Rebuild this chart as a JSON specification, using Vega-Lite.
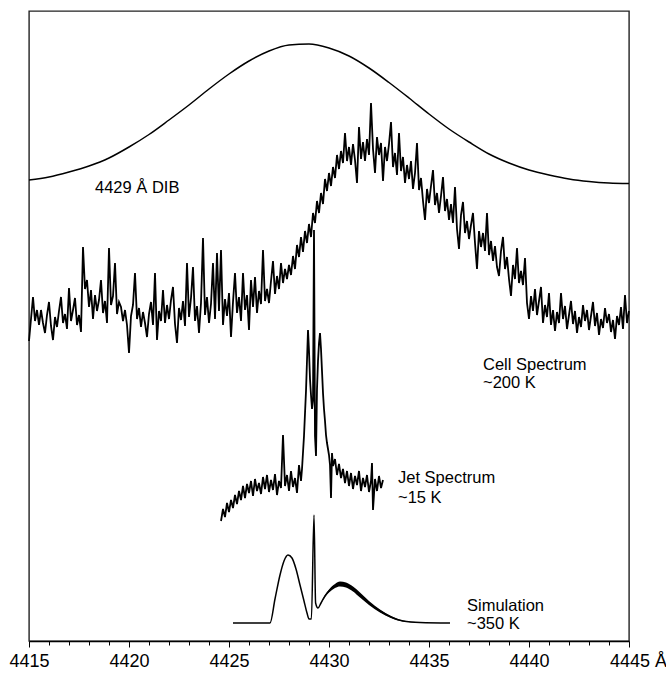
{
"$schema":"https://vega.github.io/schema/vega-lite/v6.json",
"width":600,"height":630,"autosize":"none",
"padding":{"left":29,"top":11,"right":37,"bottom":33},
"background":"white",
"config":{"view":{"stroke":"#222","strokeWidth":1.4},"font":"Liberation Sans"},
"datasets":{
"dib":[{"w":4415,"v":461},{"w":4416,"v":464},{"w":4417,"v":469},{"w":4418,"v":475},{"w":4419,"v":483},{"w":4420,"v":494},{"w":4421,"v":506.5},{"w":4422,"v":521},{"w":4423,"v":536},{"w":4424,"v":552},{"w":4425,"v":567},{"w":4426,"v":580},{"w":4427,"v":590},{"w":4428,"v":596},{"w":4429,"v":597},{"w":4430,"v":593},{"w":4431,"v":585},{"w":4432,"v":573},{"w":4433,"v":558.5},{"w":4434,"v":543},{"w":4435,"v":527},{"w":4436,"v":512},{"w":4437,"v":499},{"w":4438,"v":487},{"w":4439,"v":478},{"w":4440,"v":471},{"w":4441,"v":466},{"w":4442,"v":462},{"w":4443,"v":459.5},{"w":4444,"v":458},{"w":4445,"v":457.5}],
"cell":[{"w":4415.0,"v":300},{"w":4415.1,"v":322},{"w":4415.2,"v":344},{"w":4415.3,"v":320},{"w":4415.4,"v":331},{"w":4415.5,"v":316},{"w":4415.6,"v":331},{"w":4415.7,"v":318},{"w":4415.8,"v":308},{"w":4415.9,"v":326},
{"w":4416.0,"v":339},{"w":4416.1,"v":315},{"w":4416.2,"v":301},{"w":4416.3,"v":324},{"w":4416.4,"v":314},{"w":4416.5,"v":330},{"w":4416.6,"v":344},{"w":4416.7,"v":318},{"w":4416.8,"v":327},{"w":4416.9,"v":312},
{"w":4417.0,"v":353},{"w":4417.1,"v":320},{"w":4417.2,"v":331},{"w":4417.3,"v":343},{"w":4417.4,"v":316},{"w":4417.5,"v":326},{"w":4417.6,"v":309},{"w":4417.7,"v":394},{"w":4417.8,"v":352},{"w":4417.9,"v":361},
{"w":4418.0,"v":334},{"w":4418.1,"v":351},{"w":4418.2,"v":322},{"w":4418.3,"v":346},{"w":4418.4,"v":330},{"w":4418.5,"v":341},{"w":4418.6,"v":361},{"w":4418.7,"v":328},{"w":4418.8,"v":340},{"w":4418.9,"v":318},
{"w":4419.0,"v":393},{"w":4419.1,"v":336},{"w":4419.2,"v":345},{"w":4419.3,"v":378},{"w":4419.4,"v":327},{"w":4419.5,"v":339},{"w":4419.6,"v":334},{"w":4419.7,"v":320},{"w":4419.8,"v":331},{"w":4419.9,"v":316},
{"w":4420.0,"v":288},{"w":4420.1,"v":325},{"w":4420.2,"v":336},{"w":4420.3,"v":368},{"w":4420.4,"v":322},{"w":4420.5,"v":333},{"w":4420.6,"v":314},{"w":4420.7,"v":329},{"w":4420.8,"v":318},{"w":4420.9,"v":304},
{"w":4421.0,"v":327},{"w":4421.1,"v":339},{"w":4421.2,"v":316},{"w":4421.3,"v":368},{"w":4421.4,"v":301},{"w":4421.5,"v":330},{"w":4421.6,"v":320},{"w":4421.7,"v":351},{"w":4421.8,"v":318},{"w":4421.9,"v":336},
{"w":4422.0,"v":322},{"w":4422.1,"v":341},{"w":4422.2,"v":354},{"w":4422.3,"v":317},{"w":4422.4,"v":298},{"w":4422.5,"v":333},{"w":4422.6,"v":321},{"w":4422.7,"v":340},{"w":4422.8,"v":315},{"w":4422.9,"v":378},
{"w":4423.0,"v":324},{"w":4423.1,"v":343},{"w":4423.2,"v":374},{"w":4423.3,"v":320},{"w":4423.4,"v":335},{"w":4423.5,"v":308},{"w":4423.6,"v":338},{"w":4423.7,"v":403},{"w":4423.8,"v":326},{"w":4423.9,"v":344},
{"w":4424.0,"v":318},{"w":4424.1,"v":337},{"w":4424.2,"v":378},{"w":4424.3,"v":322},{"w":4424.4,"v":388},{"w":4424.5,"v":330},{"w":4424.6,"v":391},{"w":4424.7,"v":316},{"w":4424.8,"v":342},{"w":4424.9,"v":325},
{"w":4425.0,"v":348},{"w":4425.1,"v":304},{"w":4425.2,"v":339},{"w":4425.3,"v":368},{"w":4425.4,"v":328},{"w":4425.5,"v":344},{"w":4425.6,"v":320},{"w":4425.7,"v":368},{"w":4425.8,"v":331},{"w":4425.9,"v":346},
{"w":4426.0,"v":311},{"w":4426.1,"v":361},{"w":4426.2,"v":334},{"w":4426.3,"v":364},{"w":4426.4,"v":328},{"w":4426.5,"v":350},{"w":4426.6,"v":337},{"w":4426.7,"v":391},{"w":4426.8,"v":340},{"w":4426.9,"v":352},
{"w":4427.0,"v":338},{"w":4427.1,"v":360},{"w":4427.2,"v":380},{"w":4427.3,"v":347},{"w":4427.4,"v":365},{"w":4427.5,"v":352},{"w":4427.6,"v":378},{"w":4427.7,"v":358},{"w":4427.8,"v":372},{"w":4427.9,"v":362},
{"w":4428.0,"v":376},{"w":4428.1,"v":366},{"w":4428.2,"v":385},{"w":4428.3,"v":372},{"w":4428.4,"v":396},{"w":4428.5,"v":384},{"w":4428.6,"v":404},{"w":4428.7,"v":389},{"w":4428.8,"v":410},{"w":4428.9,"v":398},
{"w":4429.0,"v":417},{"w":4429.1,"v":404},{"w":4429.2,"v":428},{"w":4429.3,"v":418},{"w":4429.4,"v":440},{"w":4429.5,"v":428},{"w":4429.6,"v":448},{"w":4429.7,"v":437},{"w":4429.8,"v":462},{"w":4429.9,"v":450},
{"w":4430.0,"v":468},{"w":4430.1,"v":455},{"w":4430.2,"v":474},{"w":4430.3,"v":463},{"w":4430.4,"v":486},{"w":4430.5,"v":472},{"w":4430.6,"v":490},{"w":4430.7,"v":478},{"w":4430.8,"v":508},{"w":4430.9,"v":480},
{"w":4431.0,"v":494},{"w":4431.1,"v":476},{"w":4431.2,"v":497},{"w":4431.3,"v":481},{"w":4431.4,"v":458},{"w":4431.5,"v":514},{"w":4431.6,"v":482},{"w":4431.7,"v":499},{"w":4431.8,"v":480},{"w":4431.9,"v":502},
{"w":4432.0,"v":486},{"w":4432.1,"v":538},{"w":4432.2,"v":492},{"w":4432.3,"v":468},{"w":4432.4,"v":504},{"w":4432.5,"v":486},{"w":4432.6,"v":498},{"w":4432.7,"v":460},{"w":4432.8,"v":494},{"w":4432.9,"v":480},
{"w":4433.0,"v":497},{"w":4433.1,"v":519},{"w":4433.2,"v":474},{"w":4433.3,"v":488},{"w":4433.4,"v":466},{"w":4433.5,"v":508},{"w":4433.6,"v":470},{"w":4433.7,"v":484},{"w":4433.8,"v":458},{"w":4433.9,"v":476},
{"w":4434.0,"v":462},{"w":4434.1,"v":480},{"w":4434.2,"v":452},{"w":4434.3,"v":468},{"w":4434.4,"v":498},{"w":4434.5,"v":451},{"w":4434.6,"v":463},{"w":4434.7,"v":440},{"w":4434.8,"v":421},{"w":4434.9,"v":452},
{"w":4435.0,"v":438},{"w":4435.1,"v":455},{"w":4435.2,"v":471},{"w":4435.3,"v":436},{"w":4435.4,"v":448},{"w":4435.5,"v":428},{"w":4435.6,"v":445},{"w":4435.7,"v":464},{"w":4435.8,"v":430},{"w":4435.9,"v":442},
{"w":4436.0,"v":421},{"w":4436.1,"v":437},{"w":4436.2,"v":418},{"w":4436.3,"v":454},{"w":4436.4,"v":412},{"w":4436.5,"v":392},{"w":4436.6,"v":426},{"w":4436.7,"v":439},{"w":4436.8,"v":408},{"w":4436.9,"v":420},
{"w":4437.0,"v":402},{"w":4437.1,"v":416},{"w":4437.2,"v":428},{"w":4437.3,"v":398},{"w":4437.4,"v":372},{"w":4437.5,"v":410},{"w":4437.6,"v":394},{"w":4437.7,"v":408},{"w":4437.8,"v":390},{"w":4437.9,"v":428},
{"w":4438.0,"v":386},{"w":4438.1,"v":400},{"w":4438.2,"v":380},{"w":4438.3,"v":395},{"w":4438.4,"v":374},{"w":4438.5,"v":365},{"w":4438.6,"v":390},{"w":4438.7,"v":404},{"w":4438.8,"v":372},{"w":4438.9,"v":384},
{"w":4439.0,"v":362},{"w":4439.1,"v":345},{"w":4439.2,"v":376},{"w":4439.3,"v":362},{"w":4439.4,"v":393},{"w":4439.5,"v":358},{"w":4439.6,"v":370},{"w":4439.7,"v":356},{"w":4439.8,"v":383},{"w":4439.9,"v":338},
{"w":4440.0,"v":322},{"w":4440.1,"v":345},{"w":4440.2,"v":330},{"w":4440.3,"v":352},{"w":4440.4,"v":326},{"w":4440.5,"v":340},{"w":4440.6,"v":354},{"w":4440.7,"v":318},{"w":4440.8,"v":336},{"w":4440.9,"v":324},
{"w":4441.0,"v":348},{"w":4441.1,"v":316},{"w":4441.2,"v":331},{"w":4441.3,"v":310},{"w":4441.4,"v":329},{"w":4441.5,"v":318},{"w":4441.6,"v":348},{"w":4441.7,"v":322},{"w":4441.8,"v":335},{"w":4441.9,"v":312},
{"w":4442.0,"v":326},{"w":4442.1,"v":340},{"w":4442.2,"v":317},{"w":4442.3,"v":330},{"w":4442.4,"v":308},{"w":4442.5,"v":324},{"w":4442.6,"v":314},{"w":4442.7,"v":336},{"w":4442.8,"v":320},{"w":4442.9,"v":331},
{"w":4443.0,"v":311},{"w":4443.1,"v":325},{"w":4443.2,"v":339},{"w":4443.3,"v":315},{"w":4443.4,"v":328},{"w":4443.5,"v":306},{"w":4443.6,"v":322},{"w":4443.7,"v":313},{"w":4443.8,"v":333},{"w":4443.9,"v":318},
{"w":4444.0,"v":327},{"w":4444.1,"v":309},{"w":4444.2,"v":321},{"w":4444.3,"v":302},{"w":4444.4,"v":325},{"w":4444.5,"v":316},{"w":4444.6,"v":334},{"w":4444.7,"v":312},{"w":4444.8,"v":346},{"w":4444.9,"v":318},{"w":4445.0,"v":330}],
"jet":[{"w":4424.6,"v":120},{"w":4424.7,"v":132},{"w":4424.8,"v":124},{"w":4424.9,"v":138},{"w":4425.0,"v":129},{"w":4425.1,"v":141},{"w":4425.2,"v":133},{"w":4425.3,"v":146},{"w":4425.4,"v":137},{"w":4425.5,"v":150},{"w":4425.6,"v":141},{"w":4425.7,"v":155},{"w":4425.8,"v":143},{"w":4425.9,"v":157},{"w":4426.0,"v":148},{"w":4426.1,"v":160},{"w":4426.2,"v":145},{"w":4426.3,"v":162},{"w":4426.4,"v":150},{"w":4426.5,"v":158},{"w":4426.6,"v":147},{"w":4426.7,"v":164},{"w":4426.8,"v":152},{"w":4426.9,"v":166},{"w":4427.0,"v":149},{"w":4427.1,"v":161},{"w":4427.2,"v":151},{"w":4427.3,"v":167},{"w":4427.4,"v":146},{"w":4427.5,"v":160},{"w":4427.6,"v":153},{"w":4427.7,"v":206},{"w":4427.8,"v":155},{"w":4427.9,"v":166},{"w":4428.0,"v":150},{"w":4428.1,"v":170},{"w":4428.2,"v":154},{"w":4428.3,"v":163},{"w":4428.4,"v":148},{"w":4428.5,"v":176},{"w":4428.6,"v":160},{"w":4428.65,"v":172},{"w":4428.75,"v":205},{"w":4428.85,"v":250},{"w":4428.95,"v":311},{"w":4429.0,"v":290},{"w":4429.05,"v":262},{"w":4429.1,"v":246},{"w":4429.15,"v":232},{"w":4429.2,"v":240},{"w":4429.25,"v":411},{"w":4429.3,"v":205},{"w":4429.35,"v":185},{"w":4429.4,"v":252},{"w":4429.45,"v":280},{"w":4429.5,"v":298},{"w":4429.55,"v":308},{"w":4429.6,"v":292},{"w":4429.65,"v":270},{"w":4429.7,"v":248},{"w":4429.75,"v":232},{"w":4429.8,"v":220},{"w":4429.85,"v":206},{"w":4429.9,"v":198},{"w":4429.95,"v":192},{"w":4430.0,"v":186},{"w":4430.05,"v":176},{"w":4430.1,"v":143},{"w":4430.15,"v":188},{"w":4430.2,"v":175},{"w":4430.3,"v":182},{"w":4430.4,"v":166},{"w":4430.5,"v":177},{"w":4430.6,"v":163},{"w":4430.7,"v":172},{"w":4430.8,"v":158},{"w":4430.9,"v":170},{"w":4431.0,"v":155},{"w":4431.1,"v":168},{"w":4431.2,"v":152},{"w":4431.3,"v":165},{"w":4431.4,"v":156},{"w":4431.5,"v":170},{"w":4431.6,"v":150},{"w":4431.7,"v":163},{"w":4431.8,"v":154},{"w":4431.9,"v":166},{"w":4432.0,"v":149},{"w":4432.1,"v":160},{"w":4432.15,"v":178},{"w":4432.2,"v":131},{"w":4432.3,"v":162},{"w":4432.4,"v":150},{"w":4432.5,"v":165},{"w":4432.6,"v":153},{"w":4432.7,"v":161}],
"sim":[{"w":4425.2,"v":18},{"w":4427.05,"v":18},{"w":4427.3,"v":42},{"w":4427.55,"v":66},{"w":4427.75,"v":80},{"w":4427.95,"v":86},{"w":4428.15,"v":83},{"w":4428.35,"v":72},{"w":4428.55,"v":56},{"w":4428.75,"v":40},{"w":4428.9,"v":28},{"w":4429.0,"v":22},{"w":4429.12,"v":22},{"w":4429.25,"v":126},{"w":4429.33,"v":38},{"w":4429.45,"v":33},{"w":4429.6,"v":38},{"w":4429.8,"v":45},{"w":4430.0,"v":50},{"w":4430.3,"v":55},{"w":4430.55,"v":57},{"w":4430.85,"v":56},{"w":4431.2,"v":52},{"w":4431.55,"v":46},{"w":4432.0,"v":38},{"w":4432.55,"v":30},{"w":4433.1,"v":24},{"w":4433.7,"v":20},{"w":4434.55,"v":18.5},{"w":4436.05,"v":18}],
"band":[{"w":4429.6,"lo":37.5,"hi":38.5},{"w":4429.8,"lo":44,"hi":46},{"w":4430.0,"lo":48.5,"hi":51.5},{"w":4430.3,"lo":53,"hi":57},{"w":4430.55,"lo":54.5,"hi":59.5},{"w":4430.85,"lo":53.5,"hi":58.5},{"w":4431.2,"lo":49.5,"hi":54.5},{"w":4431.55,"lo":43.5,"hi":48.5},{"w":4432.0,"lo":36,"hi":40},{"w":4432.55,"lo":28.5,"hi":31.5},{"w":4433.1,"lo":23,"hi":25},{"w":4433.7,"lo":19.5,"hi":20.5},{"w":4434.55,"lo":18.3,"hi":18.7}],
"labels":[{"w":4418.3,"v":448,"t":"4429 Å DIB"},{"w":4437.7,"v":271,"t":"Cell Spectrum"},{"w":4437.7,"v":253,"t":"~200 K"},{"w":4433.45,"v":158,"t":"Jet Spectrum"},{"w":4433.45,"v":138,"t":"~15 K"},{"w":4436.9,"v":30,"t":"Simulation"},{"w":4436.9,"v":12,"t":"~350 K"}]
},
"encoding":{
"x":{"field":"w","type":"quantitative","scale":{"domain":[4415,4445],"nice":false,"zero":false},
"axis":{"values":[4415,4416,4417,4418,4419,4420,4421,4422,4423,4424,4425,4426,4427,4428,4429,4430,4431,4432,4433,4434,4435,4436,4437,4438,4439,4440,4441,4442,4443,4444,4445],
"format":"d","labelExpr":"datum.value % 5 === 0 ? (datum.value === 4445 ? '4445 Å' : datum.label) : ''",
"labelOffset":{"condition":{"test":"datum.value === 4445","value":9},"value":0},
"tickSize":{"condition":{"test":"datum.value % 5 === 0","value":6},"value":4},
"labelFontSize":18,"labelFont":"Liberation Sans","labelColor":"black","tickColor":"black","tickWidth":1,"domainColor":"black","domainWidth":1.4,"grid":false,"title":null,"labelPadding":5,"labelFlush":false,"labelOverlap":false,"labelBound":false}},
"y":{"field":"v","type":"quantitative","scale":{"domain":[0,630],"nice":false,"zero":false},"axis":null}
},
"layer":[
{"data":{"name":"dib"},"mark":{"type":"line","color":"black","strokeWidth":1.5,"interpolate":"monotone"}},
{"data":{"name":"cell"},"mark":{"type":"line","color":"black","strokeWidth":1.8,"strokeJoin":"miter"}},
{"data":{"name":"jet"},"mark":{"type":"line","color":"black","strokeWidth":1.8,"strokeJoin":"miter"}},
{"data":{"name":"band"},"mark":{"type":"area","color":"black","interpolate":"monotone"},"encoding":{"y":{"field":"lo","type":"quantitative"},"y2":{"field":"hi"}}},
{"data":{"name":"sim"},"mark":{"type":"line","color":"black","strokeWidth":1.5,"interpolate":"monotone"}},
{"data":{"name":"labels"},"mark":{"type":"text","align":"left","baseline":"alphabetic","fontSize":16.5,"font":"Liberation Sans","color":"black"},"encoding":{"text":{"field":"t"}}}
]
}
